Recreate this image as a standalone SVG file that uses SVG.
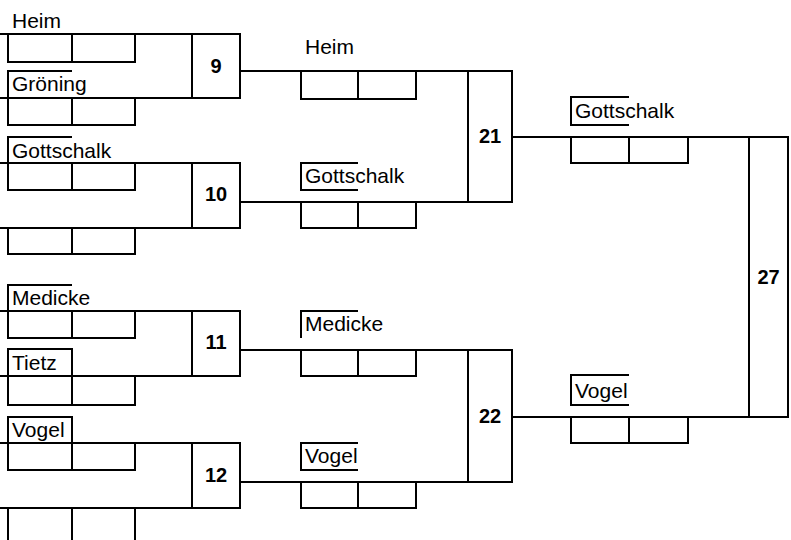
<svg xmlns="http://www.w3.org/2000/svg" width="791" height="540" viewBox="0 0 791 540">
<style>
.ln{fill:none;stroke:#000;stroke-width:2}
.bx{fill:#fff;stroke:#000;stroke-width:2}
.nm{font-family:"Liberation Sans",Arial,sans-serif;font-size:21px;fill:#000}
.no{font-family:"Liberation Sans",Arial,sans-serif;font-size:20px;font-weight:bold;fill:#000;text-anchor:middle}
</style>
<rect width="791" height="540" fill="#fff"/>
<g id="connectors" class="ln">
<path d="M240,71H468M240,202H468M240,350H468M240,482H468M512,137H749M512,417H749"/>
</g>
<g id="m9">
<path class="ln" d="M0,34H192M0,98H192"/>
<rect class="bx" x="192" y="34" width="48" height="64"/>
<path class="ln" d="M8,34V62H135V34M72,34V62"/>
<path class="ln" d="M72,71H8V98"/>
<path class="ln" d="M8,98V125H135V98M72,98V125"/>
<text class="nm" x="12" y="28">Heim</text>
<text class="nm" x="12" y="91">Gröning</text>
<text class="no" x="216" y="73">9</text>
</g>
<g id="m10">
<path class="ln" d="M0,163H192M0,228H192"/>
<rect class="bx" x="192" y="163" width="48" height="65"/>
<path class="ln" d="M72,137H8V163"/>
<path class="ln" d="M8,163V190H135V163M72,163V190"/>
<path class="ln" d="M8,228V254H135V228M72,228V254"/>
<text class="nm" x="12" y="158">Gottschalk</text>
<text class="no" x="216" y="201">10</text>
</g>
<g id="m11">
<path class="ln" d="M0,311H192M0,376H192"/>
<rect class="bx" x="192" y="311" width="48" height="65"/>
<path class="ln" d="M72,285H8V311"/>
<path class="ln" d="M8,311V338H135V311M72,311V338"/>
<path class="ln" d="M8,376V349H72V376"/>
<path class="ln" d="M8,376V405H135V376M72,376V405"/>
<text class="nm" x="12" y="305">Medicke</text>
<text class="nm" x="12" y="370">Tietz</text>
<text class="no" x="216" y="349">11</text>
</g>
<g id="m12">
<path class="ln" d="M0,443H192M0,508H192"/>
<rect class="bx" x="192" y="443" width="48" height="65"/>
<path class="ln" d="M8,443V417H72V443"/>
<path class="ln" d="M8,443V470H135V443M72,443V470"/>
<path class="ln" d="M8,508V545M72,508V545M135,508V545"/>
<text class="nm" x="12" y="437">Vogel</text>
<text class="no" x="216" y="482">12</text>
</g>
<g id="m21">
<rect class="bx" x="468" y="71" width="44" height="131"/>
<path class="ln" d="M301,71V99H416V71M358,71V99"/>
<path class="ln" d="M358,163H301V190H358"/>
<path class="ln" d="M301,202V228H416V202M358,202V228"/>
<text class="nm" x="305" y="54">Heim</text>
<text class="nm" x="305" y="183">Gottschalk</text>
<text class="no" x="490" y="143">21</text>
</g>
<g id="m22">
<rect class="bx" x="468" y="350" width="44" height="132"/>
<path class="ln" d="M358,311H301V338"/>
<path class="ln" d="M301,350V376H416V350M358,350V376"/>
<path class="ln" d="M358,443H301V470H358"/>
<path class="ln" d="M301,482V508H416V482M358,482V508"/>
<text class="nm" x="305" y="331">Medicke</text>
<text class="nm" x="305" y="463">Vogel</text>
<text class="no" x="490" y="423">22</text>
</g>
<g id="m27">
<rect class="bx" x="749" y="137" width="39" height="280"/>
<path class="ln" d="M629,97H571V125H629"/>
<path class="ln" d="M571,137V163H688V137M629,137V163"/>
<path class="ln" d="M629,375H571V405H629"/>
<path class="ln" d="M571,417V443H688V417M629,417V443"/>
<text class="nm" x="575" y="118">Gottschalk</text>
<text class="nm" x="575" y="398">Vogel</text>
<text class="no" x="768.5" y="284">27</text>
</g>
</svg>
